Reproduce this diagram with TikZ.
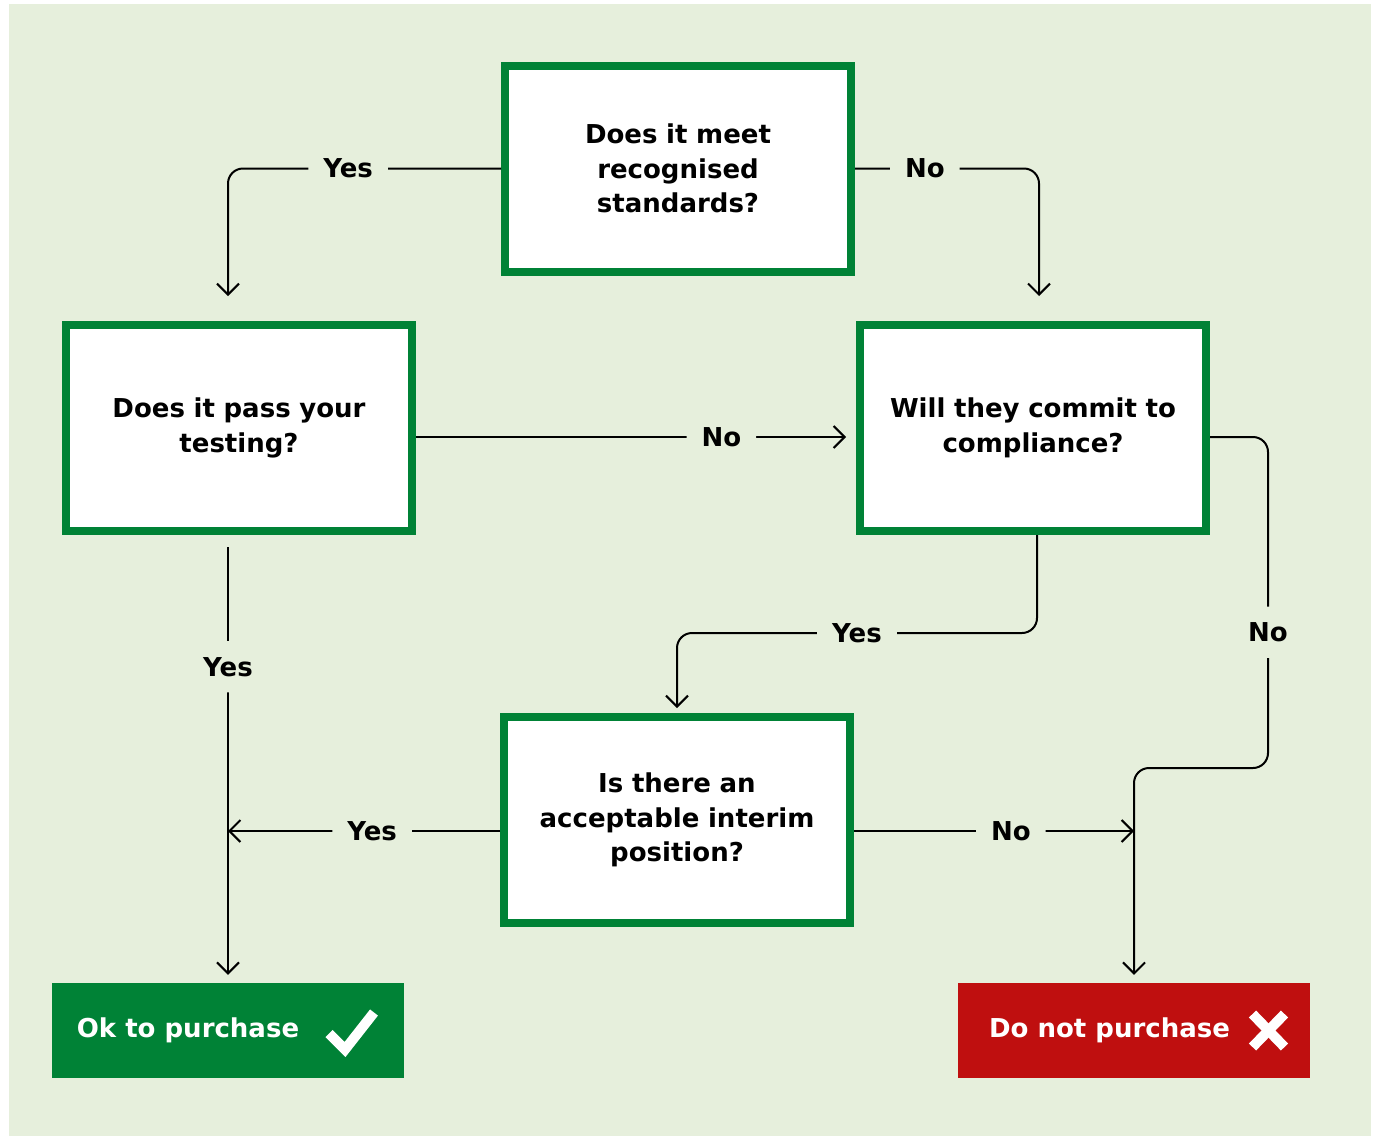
\documentclass[tikz,border=0pt]{standalone}
\usepackage{fontspec}
\setmainfont{DejaVu Sans}
\usepackage{tikz}
\usetikzlibrary{calc,arrows.meta}
\definecolor{bg}{HTML}{E6EFDC}
\definecolor{leaf}{HTML}{008236}
\definecolor{alarm}{HTML}{BF0F0F}
\tikzset{
  ask/.style={draw=leaf, fill=white, line width=8pt, minimum width=346pt, minimum height=206pt,
    text width=320pt, align=center, font=\fontsize{26}{34.5}\selectfont\bfseries},
  ans/.style={minimum width=352pt, minimum height=95pt, inner sep=0pt, text=white,
    font=\fontsize{26}{34.5}\selectfont\bfseries},
  conn/.style={draw=black, line width=2pt, rounded corners=15pt,
    -{Straight Barb[length=11pt,width=22pt,line width=2pt]}},
  lab/.style={fill=bg, inner xsep=15pt, inner ysep=16pt, font=\fontsize{26}{34.5}\selectfont\bfseries},
  glyph/.style={draw=white, line width=10pt},
}

\begin{document}
\begin{tikzpicture}[x=1pt,y=-1pt]
  \useasboundingbox (0,0) rectangle (1375,1136);
  \fill[bg] (9,4) rectangle (1371,1136);
  \node[ask] (q1) at (678,168.5) {Does it meet\\recognised\\standards?};
  \node[ask] (q2) at (239,428) {Does it pass your\\testing?};
  \node[ask] (q3) at (1033,428) {Will they commit to\\compliance?};
  \node[ask] (q4) at (677,820) {Is there an\\acceptable interim\\position?};
  \node[ans, fill=leaf] (ok) at (228,1030.5) {Ok to purchase\kern80pt};
  \node[ans, fill=alarm] (no) at (1134,1030.5) {Do not purchase\kern49pt};
  \draw[glyph] ([shift={(101,3)}]ok.center) -- ++(16,16) -- ++(29,-37);
  \draw[glyph] ([shift={(118.5,-16.5)}]no.center) -- ++(32,33);
  \draw[glyph] ([shift={(118.5,16.5)}]no.center) -- ++(32,-33);
  \draw[conn] (q1.west) -| node[lab,pos=0.28]{Yes} ([xshift=-11pt,yshift=25pt]q2.north);
  \draw[conn] (q1.east) -| node[lab,pos=0.19]{No} ([xshift=6pt,yshift=25pt]q3.north);
  \draw[conn] ([yshift=-9pt]q2.east) -- node[lab,pos=0.71]{No} ([yshift=-9pt,xshift=-10pt]q3.west);
  \draw[conn] ([xshift=4pt]q3.south) -- ++(0,98) -| node[lab,pos=0.25]{Yes} ([yshift=5pt]q4.north);
  \draw[conn] ([yshift=-9pt]q3.east) -- ++(58,0) -- node[lab,pos=0.59]{No} ++(0,331) -| ([yshift=8pt]no.north);
  \draw[conn] ([yshift=-11pt]q4.east) -- node[lab,pos=0.56]{No} ([yshift=-11pt]q4.east -| no.north);
  \draw[conn] ([yshift=-11pt]q4.west) -- node[lab,pos=0.47]{Yes} ([yshift=-11pt]q4.west -| ok.north);
  \draw[conn] ([yshift=-12pt]q2.south -| ok.north) -- node[lab,pos=0.28]{Yes} ([yshift=8pt]ok.north);
\end{tikzpicture}
\end{document}
